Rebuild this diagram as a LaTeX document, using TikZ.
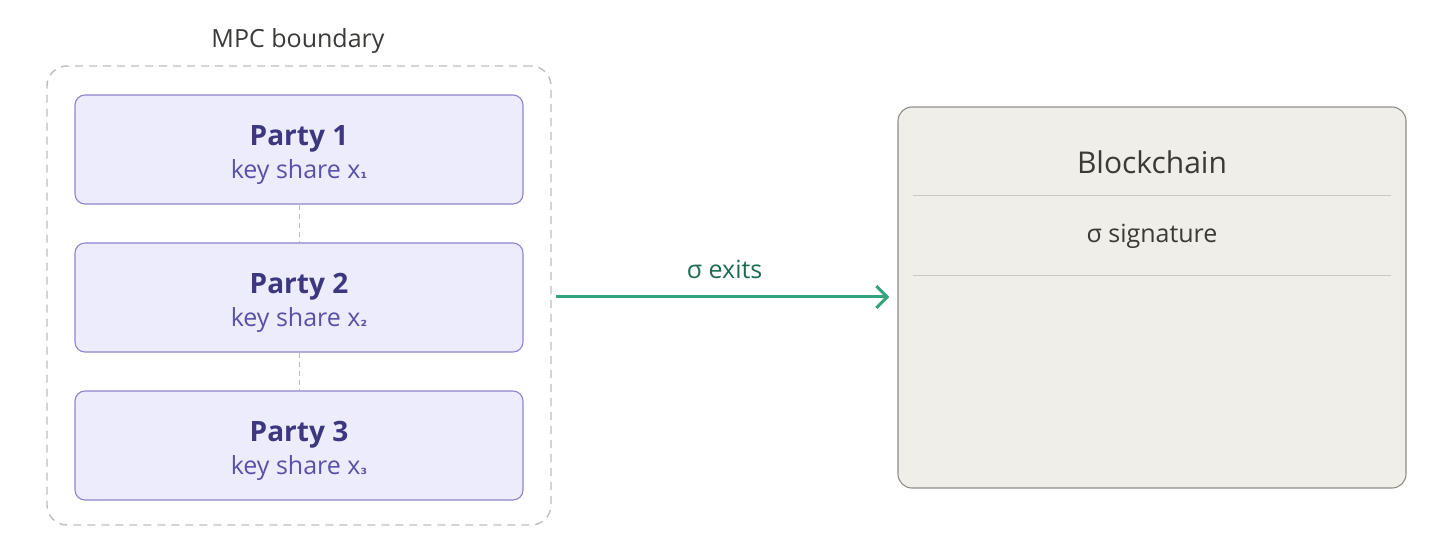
\documentclass[tikz,border=0pt]{standalone}
\usepackage{fontspec}
\setmainfont{Open Sans}
\newfontfamily\subfont{DejaVu Sans}
\usetikzlibrary{arrows.meta}
\definecolor{partyfill}{HTML}{ECECFD}
\definecolor{partydraw}{HTML}{8E84CF}
\definecolor{partytitle}{HTML}{3D3680}
\definecolor{partytext}{HTML}{5A50A8}
\definecolor{bound}{HTML}{BDBDBD}
\definecolor{chainfill}{HTML}{EFEEE9}
\definecolor{chaindraw}{HTML}{8C8C8A}
\definecolor{chainline}{HTML}{C9C8C4}
\definecolor{chaintext}{HTML}{3A3A38}
\definecolor{arrowgreen}{HTML}{34A37B}
\definecolor{labelgreen}{HTML}{1E6B52}
\newcommand{\sx}[1]{{\subfont\bfseries\fontsize{15}{15}\selectfont #1}}
\tikzset{
  partybox/.style={draw=partydraw, fill=partyfill, line width=1.1pt, rounded corners=10pt,
    minimum width=448pt, minimum height=109pt, inner sep=0pt},
  boundbox/.style={draw=bound, dashed, dash pattern=on 8pt off 6pt, line width=1.4pt, rounded corners=20pt,
    minimum width=504pt, minimum height=459pt, inner sep=0pt},
  chainbox/.style={draw=chaindraw, fill=chainfill, line width=1.1pt, rounded corners=14pt,
    minimum width=508pt, minimum height=381pt, inner sep=0pt},
  title/.style={font=\fontsize{28}{32}\selectfont\bfseries, text=partytitle},
  sub/.style={font=\fontsize{25}{29}\selectfont, text=partytext},
  plain/.style={font=\fontsize{25}{29}\selectfont, text=chaintext},
  link/.style={draw=bound, dashed, dash pattern=on 5pt off 4pt, line width=0.8pt},
}
\begin{document}
\begin{tikzpicture}[x=1pt,y=-1pt]
\useasboundingbox (0,0) rectangle (1440,545);
% MPC boundary
\node[plain] (mpclabel) at (298,41) {MPC boundary};
\node[boundbox] (mpc) at (299,295.5) {};
% parties
\node[partybox] (p1) at (299,149.5) {};
\node[partybox] (p2) at (299,297.5) {};
\node[partybox] (p3) at (299,445.5) {};
\node[title] (t1) at (299,139) {Party 1};
\node[sub] (s1) at (299,172) {key share x\sx{₁}};
\node[title] (t2) at (299,287) {Party 2};
\node[sub] (s2) at (299,320) {key share x\sx{₂}};
\node[title] (t3) at (299,435) {Party 3};
\node[sub] (s3) at (299,468) {key share x\sx{₃}};
\draw[link] (p1.south) -- (p2.north);
\draw[link] (p2.south) -- (p3.north);
% blockchain
\node[chainbox] (bc) at (1152,297.5) {};
\node[font=\fontsize{30}{34}\selectfont, text=chaintext] (bct) at (1152,162) {Blockchain};
\node[plain] (sig) at (1152,236) {σ signature};
\coordinate (l1a) at (913,196);
\coordinate (l1b) at (1391,196);
\coordinate (l2a) at (913,276);
\coordinate (l2b) at (1391,276);
\draw[chainline, line width=1pt] (l1a) -- (l1b);
\draw[chainline, line width=1pt] (l2a) -- (l2b);
% arrow
\coordinate (as) at (mpc.east |- 0,297);
\coordinate (ae) at (bc.west |- 0,297);
\draw[arrowgreen, line width=3pt, shorten <=4pt, shorten >=8pt,
  -{Straight Barb[length=11pt,width=22pt,line width=3pt]}] (as) -- (ae)
  node[midway, above=13pt, text=labelgreen, font=\fontsize{25}{29}\selectfont] (lbl) {σ exits};
\end{tikzpicture}
\end{document}
